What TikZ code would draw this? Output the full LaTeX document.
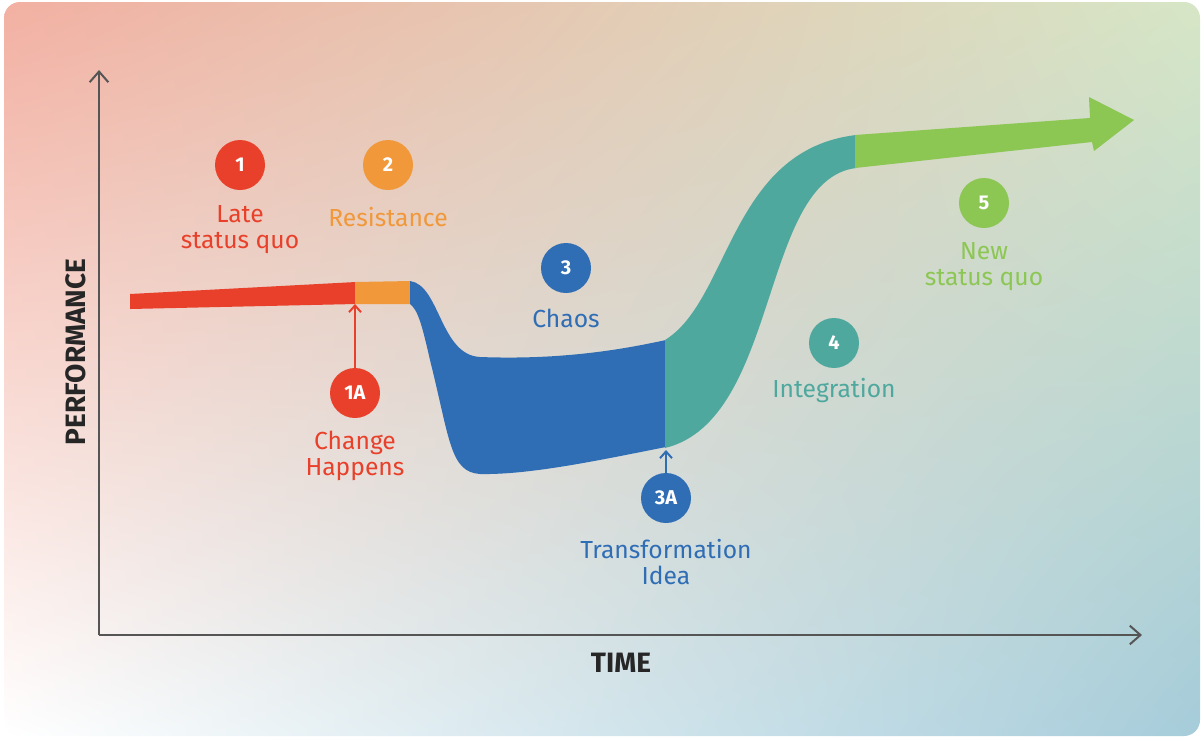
\documentclass[tikz,border=0pt]{standalone}
\usepackage{fontspec}
\setmainfont{Fira Sans}
\usetikzlibrary{arrows.meta,shadings}
\definecolor{cred}{HTML}{E8402A}
\definecolor{corange}{HTML}{F0983A}
\definecolor{cblue}{HTML}{2F6DB5}
\definecolor{cteal}{HTML}{4FA89E}
\definecolor{cgreen}{HTML}{8CC653}
\definecolor{axis}{HTML}{555555}
\definecolor{bgul}{HTML}{F2B0A2}
\definecolor{bgur}{HTML}{D6E6C6}
\definecolor{bgll}{HTML}{FFFFFF}
\definecolor{bglr}{HTML}{A6CCDA}
\begin{document}
\begin{tikzpicture}[x=0.75pt,y=-0.75pt,
  num/.style={circle,fill=#1,minimum size=37.5pt,inner sep=0pt,text=white,font=\fontsize{15}{15}\selectfont\bfseries},
  lab/.style={text=#1,font=\fontsize{18.5}{19.5}\selectfont,align=center},
  ax/.style={axis,line width=1.5pt,-{Straight Barb[length=8pt,width=14pt]}}]
\useasboundingbox (0,0) rectangle (1204,740);
\shade[rounded corners=12pt,upper left=bgul,upper right=bgur,lower left=bgll,lower right=bglr] (4,2) rectangle (1200,736);
\coordinate (o) at (99,635);
\coordinate (yt) at (99,70);
\coordinate (xt) at (1142,635);
\draw[ax] (o) -- (yt);
\draw[ax] (o) -- (xt);
\node[rotate=90,font=\fontsize{21}{21}\selectfont\bfseries,text=black!85] (perf) at (76,352) {PERFORMANCE};
\node[font=\fontsize{21}{21}\selectfont\bfseries,text=black!85] (time) at (621,663) {TIME};
% bands
\fill[cred] (130,294) -- (356,282) -- (356,304) -- (130,309) -- cycle;
\fill[corange] (355,282) -- (411,281) -- (411,304) -- (355,304) -- cycle;
\fill[cblue] (410,281) .. controls (440,285) and (440,355) .. (480,357)
  .. controls (560,360) and (620,350) .. (666,340) -- (666,447)
  .. controls (600,460) and (530,475) .. (480,474)
  .. controls (450,472) and (450,440) .. (430,360) .. controls (422,325) and (418,310) .. (410,304) -- cycle;
\fill[cteal] (665,340) .. controls (730,300) and (730,150) .. (856,135) -- (856,168)
  .. controls (760,180) and (780,420) .. (665,448) -- cycle;
\fill[cgreen] (855,135) -- (1090,118) -- (1089,97) -- (1134,120) -- (1094,151) -- (1092,142) -- (855,168) -- cycle;
% 1A and 3A arrows
\node[num=cred] (n1a) at (355,393) {1A};
\coordinate (a1) at (355,304);
\draw[cred,line width=1.5pt,-{Straight Barb[length=5pt,width=9pt]}] (n1a) -- (a1);
\node[num=cblue] (n3a) at (666,498) {3A};
\coordinate (a3) at (666,450);
\draw[cblue,line width=1.5pt,-{Straight Barb[length=5pt,width=9pt]}] (n3a) -- (a3);
% numbers and labels
\node[num=cred] (n1) at (240,165) {1};
\node[lab=cred] (l1) at (240,230) {Late\\status quo};
\node[num=corange] (n2) at (388,165) {2};
\node[lab=corange] (l2) at (388,217) {Resistance};
\node[num=cblue] (n3) at (566,268) {3};
\node[lab=cblue] (l3) at (566,318) {Chaos};
\node[num=cteal] (n4) at (834,343) {4};
\node[lab=cteal] (l4) at (834,390) {Integration};
\node[num=cgreen] (n5) at (984,203) {5};
\node[lab=cgreen] (l5) at (984,267) {New\\status quo};
\node[lab=cred] (l1a) at (355,456) {Change\\Happens};
\node[lab=cblue] (l3a) at (666,562) {Transformation\\Idea};
\end{tikzpicture}
\end{document}
